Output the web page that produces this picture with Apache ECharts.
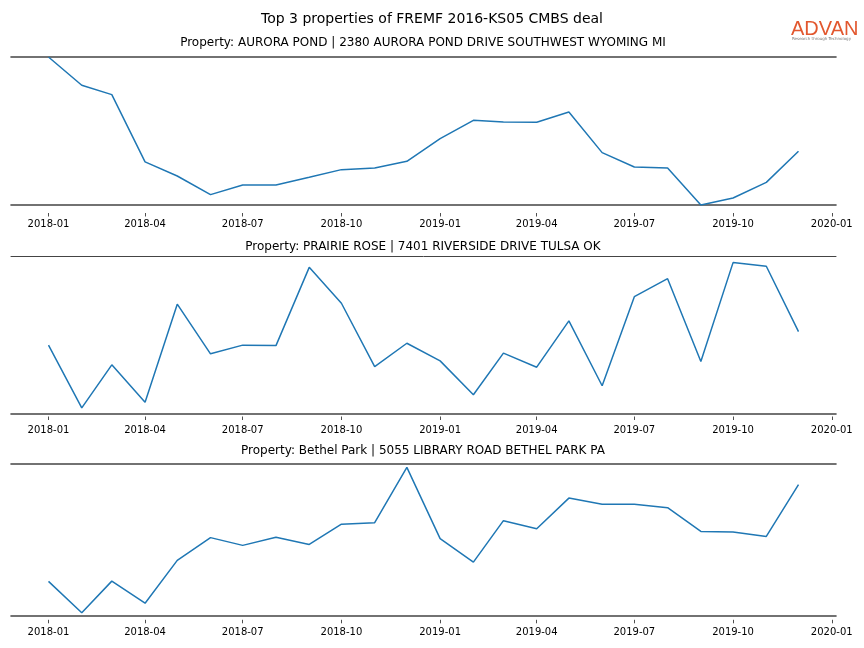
<!DOCTYPE html>
<html>
<head>
<meta charset="utf-8">
<script src="https://cdn.jsdelivr.net/npm/echarts@6/dist/echarts.min.js"></script>
<style>html,body{margin:0;padding:0;background:#fff}#c{width:864px;height:648px}</style>
</head>
<body>
<div id="c"></div>
<script>
const months = ['2018-01-01','2018-02-01','2018-03-01','2018-04-01','2018-05-01','2018-06-01','2018-07-01','2018-08-01','2018-09-01','2018-10-01','2018-11-01','2018-12-01',
                '2019-01-01','2019-02-01','2019-03-01','2019-04-01','2019-05-01','2019-06-01','2019-07-01','2019-08-01','2019-09-01','2019-10-01','2019-11-01','2019-12-01'];
const tickLabels = ['2018-01','2018-04','2018-07','2018-10','2019-01','2019-04','2019-07','2019-10','2020-01'];
const mainTitle = 'Top 3 properties of FREMF 2016-KS05 CMBS deal';
const panelTitles = [
  'Property: AURORA POND | 2380 AURORA POND DRIVE SOUTHWEST WYOMING MI',
  'Property: PRAIRIE ROSE | 7401 RIVERSIDE DRIVE TULSA OK',
  'Property: Bethel Park | 5055 LIBRARY ROAD BETHEL PARK PA'
];
const auroraPond = [100, 80.9, 74.6, 29.1, 19.6, 7.0, 13.5, 13.5, 18.7, 23.9, 25.0, 29.5,
                    44.9, 57.2, 56.1, 55.9, 62.8, 35.4, 25.7, 25.0, 0.0, 4.7, 15.3, 36.3];
const prairieRose = [43.4, 3.6, 30.9, 7.2, 69.4, 37.9, 43.4, 43.1, 92.8, 70.0, 29.8, 44.6,
                     33.4, 11.9, 38.3, 29.4, 58.8, 17.6, 74.2, 85.6, 33.0, 95.8, 93.5, 52.0];
const bethelPark = [22.5, 1.8, 22.7, 8.1, 36.4, 51.4, 46.3, 51.6, 46.9, 60.3, 61.3, 97.8,
                    50.7, 35.2, 62.6, 57.3, 77.5, 73.4, 73.4, 71.2, 55.5, 55.1, 52.2, 86.4];
const seriesList = [auroraPond, prairieRose, bethelPark];

const DAY = 86400000;
const dayNum = s => Math.round(Date.parse(s.length === 7 ? s + '-01T00:00:00Z' : s + 'T00:00:00Z') / DAY);
const tickValues = tickLabels.map(dayNum);
const t0 = dayNum(months[0]), t1 = dayNum(months[months.length - 1]);
const pad = (t1 - t0) * 0.05;
const xMin = t0 - pad, xMax = t1 + pad;

const grids = [
  {left: 11, right: 28, top: 57, height: 148},
  {left: 11, right: 28, top: 256, height: 157.5},
  {left: 11, right: 28, top: 464, height: 151.5}
];
const titleTops = [31.5, 235.5, 439.5];
const topSpineWidth = [1.6, 1.0, 1.6];
const tickOffsets = [8, 3, 4.3];
const labelMargins = [6, 8.5, 8];

const xAxes = [], yAxes = [], series = [], titles = [];
titles.push({text: mainTitle, left: 'center', top: 7.5,
  textStyle: {fontFamily: 'DejaVu Sans', fontSize: 14, fontWeight: 'normal', color: '#000'}});
grids.forEach((g, i) => {
  titles.push({text: panelTitles[i], left: 418, textAlign: 'center', top: titleTops[i],
    textStyle: {fontFamily: 'DejaVu Sans', fontSize: 12, fontWeight: 'normal', color: '#000'}});
  const base = xAxes.length;
  xAxes.push({
    type: 'value', gridIndex: i, min: xMin, max: xMax, position: 'bottom', offset: tickOffsets[i],
    axisLine: {show: false, onZero: false},
    axisTick: {show: true, length: 3.5, lineStyle: {color: '#222', width: 0.8}, customValues: tickValues},
    axisLabel: {show: true, customValues: tickValues, margin: labelMargins[i], fontFamily: 'DejaVu Sans', fontSize: 10, color: '#000',
      formatter: v => { const k = tickValues.indexOf(Math.round(v)); return k >= 0 ? tickLabels[k] : ''; }},
    splitLine: {show: false}
  });
  xAxes.push({
    type: 'value', gridIndex: i, min: xMin, max: xMax, position: 'bottom',
    axisLine: {show: true, onZero: false, lineStyle: {color: '#444', width: 1.6}},
    axisTick: {show: false}, axisLabel: {show: false}, splitLine: {show: false}
  });
  xAxes.push({
    type: 'value', gridIndex: i, min: xMin, max: xMax, position: 'top',
    axisLine: {show: true, onZero: false, lineStyle: {color: '#444', width: topSpineWidth[i]}},
    axisTick: {show: false}, axisLabel: {show: false}, splitLine: {show: false}
  });
  yAxes.push({type: 'value', gridIndex: i, min: 0, max: 100,
    axisLine: {show: false}, axisTick: {show: false}, axisLabel: {show: false}, splitLine: {show: false}});
  series.push({
    type: 'line', xAxisIndex: base, yAxisIndex: i, symbol: 'none', silent: true,
    lineStyle: {color: '#1f77b4', width: 1.5},
    data: months.map((m, j) => [dayNum(m), seriesList[i][j]])
  });
});

const chart = echarts.init(document.getElementById('c'), null, {renderer: 'canvas'});
chart.setOption({
  animation: false,
  backgroundColor: '#fff',
  title: titles,
  grid: grids,
  xAxis: xAxes,
  yAxis: yAxes,
  series: series,
  graphic: [
    {type: 'text', left: 791, top: 19, style: {text: 'ADVAN', fontFamily: 'Liberation Sans', fontSize: 20, fontWeight: 'normal', fill: '#e2572e'}},
    {type: 'text', left: 792, top: 37, style: {text: 'Research through Technology', fontFamily: 'DejaVu Sans', fontSize: 4, fill: '#777'}}
  ]
});
</script>
</body>
</html>
